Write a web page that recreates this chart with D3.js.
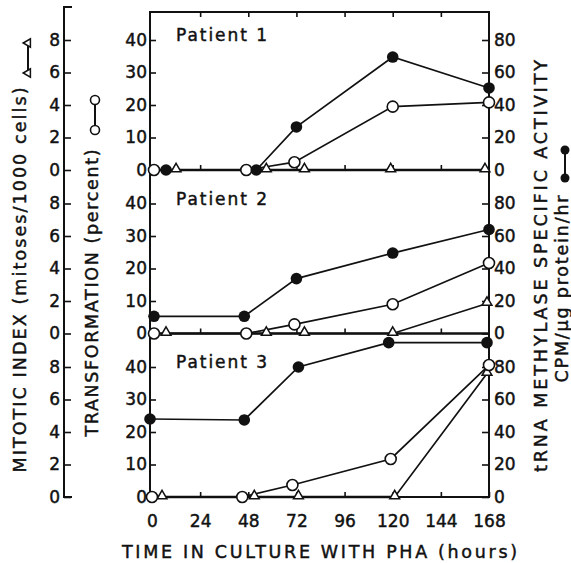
<!DOCTYPE html>
<html>
<head>
<meta charset="utf-8">
<script src="https://cdn.jsdelivr.net/npm/d3@7"></script>
<style>
  body { margin: 0; background: #fff; }
  text { font-family: "DejaVu Sans", sans-serif; fill: #111; stroke: #111; stroke-width: 0.45px; }
</style>
</head>
<body>
<div id="chart"></div>
<script>
var width = 571;
var height = 563;

// hours as plotted -- the original nudges points sideways so they don't hide each other
var patients = ["Patient 1", "Patient 2", "Patient 3"];
var transHours = [[1, 47, 71, 120, 168], [1, 47, 71, 120, 168], [0, 45, 70, 119, 168]];
var transformation = [[0, 0, 2.4, 19.5, 20.8], [0, 0, 2.8, 9, 21.7], [0, 0, 3.7, 11.7, 40.6]];
var methylHours = [[7, 52, 72, 120, 168], [1, 46, 72, 120, 168], [-1, 46, 73, 118, 167]];
var methylase = [[0, 0, 26.5, 69.5, 50.5], [10.6, 10.6, 33.8, 49.5, 64], [48, 47.4, 80, 95, 95]];
var mitoHours = [[12, 57, 76, 119, 166], [7, 57, 76, 120, 167], [5, 51, 73, 121, 167]];
var mitotic = [[0, 0, 0, 0, 0], [0, 0, 0, 0, 1.85], [0, 0, 0, 0, 7.6]];

var hourTicks = [0, 24, 48, 72, 96, 120, 144, 168];
var innerHourTicks = [24, 48, 72, 96, 120, 144];
var transTicks = [0, 10, 20, 30, 40];
var mitoTicks = [0, 2, 4, 6, 8];
var methylTicks = [0, 20, 40, 60, 80];

var plotLeft = 150, plotRight = 489, plotTop = 12;
var zeros = [170, 333.5, 497];
var band = 130; // px for 40 % transformation
var mitoX = 64;

var svg = d3.select("#chart")
    .append("svg")
    .attr("width", width)
    .attr("height", height);

var x = d3.scaleLinear().domain([0, 168]).range([plotLeft + 2, plotRight]);

function styleAxis(g) {
    g.attr("font-size", 17).attr("font-family", "DejaVu Sans, sans-serif");
    g.select(".domain").remove();
    g.selectAll("line").attr("stroke", "#111").attr("stroke-width", 1.6);
    g.selectAll("text").attr("fill", "#111");
}

// frame
svg.append("rect")
    .attr("x", plotLeft).attr("y", plotTop)
    .attr("width", plotRight - plotLeft).attr("height", zeros[2] - plotTop)
    .attr("fill", "none").attr("stroke", "#111").attr("stroke-width", 2);

// mitotic index axis line (separate, far left)
svg.append("path")
    .attr("d", "M" + (mitoX + 8) + "," + (plotTop - 5) + "H" + mitoX + "V" + zeros[2] + "H" + (mitoX + 8))
    .attr("fill", "none").attr("stroke", "#111").attr("stroke-width", 2);

// ticks along the top frame
svg.append("g")
    .attr("transform", "translate(0," + plotTop + ")")
    .call(d3.axisTop(x).tickValues(innerHourTicks).tickSize(-5).tickFormat(""))
    .call(styleAxis);

var tri = d3.symbol().type(d3.symbolTriangle).size(42);

patients.forEach(function(name, i) {
    var z = zeros[i];
    var y = d3.scaleLinear().domain([0, 40]).range([z, z - band]);
    var yMito = d3.scaleLinear().domain([0, 8]).range([z, z - band]);
    var yMeth = d3.scaleLinear().domain([0, 80]).range([z, z - band]);

    // panel zero line with upward ticks
    if (i < 2) {
        svg.append("line")
            .attr("x1", plotLeft).attr("x2", plotRight).attr("y1", z).attr("y2", z)
            .attr("stroke", "#111").attr("stroke-width", 2.6);
        svg.append("g")
            .attr("transform", "translate(0," + z + ")")
            .call(d3.axisBottom(x).tickValues(innerHourTicks).tickSize(-5).tickFormat(""))
            .call(styleAxis);
    } else {
        svg.append("line")
            .attr("x1", plotLeft).attr("x2", x(120)).attr("y1", z).attr("y2", z)
            .attr("stroke", "#111").attr("stroke-width", 2.6);
        svg.append("g")
            .attr("transform", "translate(0," + z + ")")
            .call(d3.axisBottom(x).tickValues(hourTicks).tickSizeInner(-5).tickSizeOuter(0).tickPadding(18))
            .call(styleAxis);
    }

    svg.append("g")
        .attr("transform", "translate(" + plotLeft + ",0)")
        .call(d3.axisLeft(y).tickValues(transTicks).tickSizeInner(-6).tickPadding(3))
        .call(styleAxis);

    svg.append("g")
        .attr("transform", "translate(" + mitoX + ",0)")
        .call(d3.axisLeft(yMito).tickValues(mitoTicks).tickSizeInner(-7).tickPadding(4))
        .call(styleAxis);

    svg.append("g")
        .attr("transform", "translate(" + plotRight + ",0)")
        .call(d3.axisRight(yMeth).tickValues(methylTicks).tickSizeInner(-7).tickPadding(5))
        .call(styleAxis);

    svg.append("text")
        .attr("x", 176).attr("y", z - 129)
        .attr("font-size", 17)
        .attr("textLength", 91).attr("lengthAdjust", "spacing")
        .text(name);

    var mito = mitoHours[i].map(function(h, k) { return [x(h), yMito(mitotic[i][k])]; });
    var trans = transHours[i].map(function(h, k) { return [x(h), y(transformation[i][k])]; });
    var meth = methylHours[i].map(function(h, k) { return [x(h), yMeth(methylase[i][k])]; });

    var line = d3.line();
    [mito, trans, meth].forEach(function(pts) {
        svg.append("path")
            .attr("d", line(pts))
            .attr("fill", "none").attr("stroke", "#111")
            .attr("stroke-width", 1.7);
    });

    svg.selectAll(null).data(mito).enter()
        .append("path")
        .attr("d", tri)
        .attr("transform", function(d) { return "translate(" + d[0] + "," + (d[1] - 1) + ")"; })
        .attr("fill", "#fff").attr("stroke", "#111").attr("stroke-width", 1.5);

    svg.selectAll(null).data(trans).enter()
        .append("circle")
        .attr("cx", function(d) { return d[0]; })
        .attr("cy", function(d) { return d[1]; })
        .attr("r", 5.5)
        .attr("fill", "#fff").attr("stroke", "#111").attr("stroke-width", 1.6);

    svg.selectAll(null).data(meth).enter()
        .append("circle")
        .attr("cx", function(d) { return d[0]; })
        .attr("cy", function(d) { return d[1]; })
        .attr("r", 5.8)
        .attr("fill", "#111");
});

// axis titles
svg.append("text")
    .attr("x", 122).attr("y", 558)
    .attr("font-size", 17.5)
    .attr("textLength", 395).attr("lengthAdjust", "spacing")
    .text("TIME IN CULTURE WITH PHA (hours)");

function sideTitle(tx, ty, len, label) {
    svg.append("text")
        .attr("transform", "translate(" + tx + "," + ty + ") rotate(-90)")
        .attr("text-anchor", "middle")
        .attr("font-size", 17.5)
        .attr("textLength", len).attr("lengthAdjust", "spacing")
        .text(label);
}
sideTitle(26, 280, 385, "MITOTIC INDEX (mitoses/1000 cells)");
sideTitle(98, 293, 287, "TRANSFORMATION (percent)");
sideTitle(547, 266, 412, "tRNA METHYLASE SPECIFIC ACTIVITY");
sideTitle(568, 289, 187, "CPM/\u03bcg protein/hr");

// little key symbols next to the titles
svg.append("line").attr("x1", 28).attr("x2", 28).attr("y1", 43).attr("y2", 73)
    .attr("stroke", "#111").attr("stroke-width", 2);
[43, 73].forEach(function(cy) {
    svg.append("path")
        .attr("d", d3.symbol().type(d3.symbolTriangle).size(30))
        .attr("transform", "translate(28," + cy + ") rotate(-90)")
        .attr("fill", "#fff").attr("stroke", "#111").attr("stroke-width", 1.5);
});

svg.append("line").attr("x1", 95).attr("x2", 95).attr("y1", 100).attr("y2", 130)
    .attr("stroke", "#111").attr("stroke-width", 2);
[100, 130].forEach(function(cy) {
    svg.append("circle").attr("cx", 95).attr("cy", cy).attr("r", 4.5)
        .attr("fill", "#fff").attr("stroke", "#111").attr("stroke-width", 1.6);
});

svg.append("line").attr("x1", 565).attr("x2", 565).attr("y1", 150).attr("y2", 178)
    .attr("stroke", "#111").attr("stroke-width", 2);
[150, 178].forEach(function(cy) {
    svg.append("circle").attr("cx", 565).attr("cy", cy).attr("r", 4.5).attr("fill", "#111");
});
</script>
</body>
</html>
